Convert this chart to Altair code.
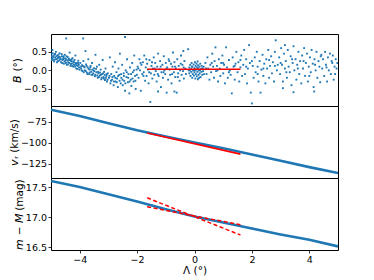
import altair as alt
import pandas as pd

FONT = "DejaVu Sans"
BLUE = "#1f77b4"
RED = "#ff0000"

# ---- top panel: B vs Lambda (stream members) ----
B_PAIRS_A = [
    (-4.98,0.45),(-4.96,0.32),(-4.95,0.55),(-4.93,0.38),(-4.9,0.28),(-4.88,0.42),(-4.85,0.35),(-4.83,0.5),
    (-4.8,0.3),(-4.78,0.4),(-4.75,0.25),(-4.73,0.36),(-4.7,0.46),(-4.68,0.31),(-4.65,0.22),(-4.62,0.38),
    (-4.6,0.28),(-4.57,0.34),(-4.55,0.18),(-4.52,0.42),(-4.5,0.26),(-4.47,0.3),(-4.45,0.15),(-4.42,0.36),
    (-4.4,0.22),(-4.37,0.28),(-4.35,0.48),(-4.32,0.12),(-4.3,0.25),(-4.27,0.19),(-4.25,0.33),(-4.22,0.1),
    (-4.2,0.22),(-4.17,0.15),(-4.15,0.4),(-4.12,0.05),(-4.1,0.18),(-4.07,0.12),(-4.05,0.26),(-4.02,0.08),
    (-4.47,0.86),(-3.88,0.86),(-2.42,0.9),
    (-3.98,0.2),(-3.95,0.05),(-3.92,0.14),(-3.9,-0.02),(-3.87,0.25),(-3.85,0.1),(-3.82,0.0),(-3.8,0.52),
    (-3.78,0.16),(-3.75,-0.06),(-3.72,0.08),(-3.7,0.3),(-3.67,-0.1),(-3.65,0.02),(-3.62,0.12),(-3.6,-0.04),
    (-3.57,0.2),(-3.55,-0.12),(-3.52,0.0),(-3.5,0.06),(-3.47,-0.16),(-3.45,0.42),(-3.42,-0.05),(-3.4,0.1),
    (-3.37,-0.2),(-3.35,-0.08),(-3.32,0.15),(-3.3,-0.14),(-3.27,0.02),(-3.25,-0.24),(-3.22,-0.1),(-3.2,0.28),
    (-3.17,-0.18),(-3.15,-0.04),(-3.12,-0.26),(-3.1,0.05),(-3.07,-0.15),(-3.05,-0.3),(-3.02,-0.08),
    (-2.98,-0.2),(-2.95,0.35),(-2.93,-0.35),(-2.9,-0.1),(-2.87,-0.25),(-2.85,0.1),(-2.82,-0.4),(-2.8,-0.15),
    (-2.77,0.22),(-2.75,-0.3),(-2.72,-0.05),(-2.7,-0.22),(-2.67,-0.45),(-2.65,0.05),(-2.62,-0.12),(-2.6,0.45),
    (-2.57,-0.35),(-2.55,-0.2),(-2.52,0.15),(-2.5,-0.4),(-2.47,-0.08),(-2.45,-0.28),(-2.42,-0.55),(-2.4,0.0),
    (-2.37,-0.18),(-2.35,0.3),(-2.32,-0.32),(-2.3,-0.1),(-2.27,-0.62),(-2.25,0.08),(-2.22,-0.25),(-2.2,-0.42),
    (-2.17,0.2),(-2.15,-0.05),(-2.12,-0.3),(-2.1,0.4),(-2.07,-0.15),(-2.05,-0.5),(-2.02,0.02),
]
B_PAIRS_B = [
    (-1.98,0.1),(-1.95,-0.2),(-1.92,0.3),(-1.9,0.0),(-1.87,-0.55),(-1.85,0.15),(-1.82,-0.1),(-1.8,0.22),
    (-1.77,-0.05),(-1.75,0.4),(-1.72,-0.28),(-1.7,0.08),(-1.67,-0.15),(-1.65,0.18),(-1.62,0.02),(-1.6,-0.35),
    (-1.57,0.28),(-1.54,-0.85),(-1.52,-0.08),(-1.5,0.12),(-1.47,-0.22),(-1.45,0.05),(-1.42,0.35),(-1.4,-0.12),
    (-1.37,0.2),(-1.35,-0.02),(-1.32,-0.3),(-1.3,0.1),(-1.27,0.45),(-1.25,-0.15),(-1.22,0.03),(-1.2,0.25),
    (-1.17,-0.45),(-1.15,-0.05),(-1.12,0.15),(-1.1,-0.2),(-1.07,0.38),(-1.05,0.0),(-1.02,-0.1),(-1.0,0.2),
    (-0.97,-0.6),(-0.95,0.08),(-0.92,-0.25),(-0.9,0.3),(-0.87,0.02),(-0.85,-0.12),(-0.82,0.18),(-0.8,-0.35),
    (-0.77,0.1),(-0.75,0.48),(-0.72,-0.05),(-0.7,0.22),(-0.67,-0.18),(-0.65,0.05),(-0.62,-0.6),(-0.6,0.3),
    (-0.57,-0.08),(-0.55,0.12),(-0.52,-0.28),(-0.5,0.0),(-0.47,0.4),(-0.45,-0.12),(-0.42,0.15),(-0.4,-0.02),
    (-0.37,-0.22),(-0.35,0.25),(-0.32,0.05),(-0.3,-0.1),(-0.39,0.52),(-0.22,0.57),(-0.7,-0.57),(-1.27,-0.57),
    # dense clump near the origin
    (-0.2,0.0),(-0.18,0.08),(-0.18,-0.08),(-0.15,0.15),(-0.14,-0.15),(-0.12,0.04),(-0.11,-0.04),(-0.1,0.2),
    (-0.08,-0.2),(-0.07,0.1),(-0.06,-0.1),(-0.05,0.0),(-0.03,0.16),(-0.02,-0.14),(0.0,0.06),(0.0,-0.05),
    (0.02,0.22),(0.03,-0.22),(0.04,0.12),(0.05,-0.1),(0.06,0.02),(0.07,0.18),(0.08,-0.16),(0.09,0.08),
    (0.1,-0.04),(0.11,0.24),(0.12,-0.24),(0.13,0.14),(0.14,-0.12),(0.15,0.0),(0.17,0.1),(0.18,-0.08),
    (0.2,0.18),(0.21,-0.18),(0.22,0.04),(0.24,-0.04),(0.25,0.12),(0.27,-0.12),(0.28,0.06),(0.3,-0.02),
    (0.32,0.1),(0.33,-0.1),(-0.16,0.0),(0.19,0.0),(0.01,0.0),(-0.09,0.1),(0.12,0.06),(0.16,-0.2),
]
B_PAIRS_C = [
    (0.38,0.2),(0.42,-0.1),(0.45,0.35),(0.48,0.05),(0.52,-0.25),(0.55,0.15),(0.58,-0.05),(0.62,0.45),
    (0.65,0.1),(0.68,-0.2),(0.7,0.25),(0.73,0.62),(0.75,-0.02),(0.78,0.12),(0.82,-0.3),(0.85,0.3),
    (0.88,0.05),(0.9,-0.15),(0.93,0.2),(0.97,0.4),(1.0,-0.08),(1.03,0.15),(1.06,-0.35),(1.1,0.62),
    (1.13,0.08),(1.16,-0.2),(1.2,0.28),(1.23,0.0),(1.26,-0.12),(1.3,-0.62),(1.33,0.35),(1.36,0.1),
    (1.4,-0.25),(1.43,0.18),(1.46,0.5),(1.5,-0.05),(1.53,0.22),(1.56,-0.3),(1.6,0.08),(1.63,0.4),
    (1.66,-0.15),(1.7,0.15),(1.73,0.55),(1.76,-0.1),(1.8,0.3),(1.83,-0.35),(1.86,0.05),(1.9,0.68),
    (1.93,0.2),(1.96,-0.6),(2.0,-0.89),(2.03,0.12),(2.06,-0.2),(2.1,0.35),(2.13,-0.05),(2.17,0.5),
    (2.2,0.1),(2.23,-0.3),(2.27,0.25),(2.3,-0.6),(2.33,0.02),(2.37,0.42),(2.4,-0.15),(2.43,0.18),
    (2.47,-0.35),(2.5,0.3),(2.53,0.05),(2.57,0.55),(2.6,-0.2),(2.63,0.12),(2.67,0.38),(2.7,-0.08),
    (2.73,0.22),(2.77,-0.3),(2.8,0.5),(2.83,0.81),(2.87,0.0),(2.9,0.15),
    (2.95,0.35),(2.98,-0.1),(3.02,0.6),(3.05,0.15),(3.08,-0.3),(3.12,0.45),(3.15,0.05),(3.18,0.25),
    (3.22,-0.2),(3.25,0.55),(3.28,0.1),(3.32,-0.05),(3.35,0.38),(3.38,-0.4),(3.42,0.2),(3.45,0.65),
    (3.48,0.0),(3.52,0.3),(3.55,-0.25),(3.58,0.15),(3.62,0.5),(3.65,-0.1),(3.68,0.25),(3.72,-0.35),
    (3.75,0.4),(3.78,0.05),(3.82,0.6),(3.85,-0.15),(3.88,0.2),(3.92,0.45),(3.95,-0.3),(3.98,0.1),
    (4.02,0.35),(4.05,-0.05),(4.08,0.55),(4.12,0.18),(4.15,-0.45),(4.18,0.3),(4.22,0.0),(4.25,0.5),
    (4.28,-0.2),(4.32,0.25),(4.35,0.1),(4.38,-0.32),(4.42,0.42),(4.45,0.05),(4.48,0.3),(4.52,-0.15),
    (4.55,0.5),(4.58,0.15),(4.62,-0.3),(4.65,0.35),(4.68,0.0),(4.72,0.45),(4.75,-0.1),(4.78,0.25),
    (4.82,0.4),(4.85,-0.25),(4.88,0.1),(4.92,0.3),(4.95,0.05),(4.98,0.2),
    (4.17,-0.57),(3.08,-0.48),(3.45,-0.59),(3.15,0.68),
]
B_PAIRS_D = [
    (-4.99,0.38),(-4.97,0.28),(-4.94,0.46),(-4.91,0.35),(-4.89,0.24),(-4.86,0.44),(-4.84,0.3),(-4.81,0.38),
    (-4.79,0.22),(-4.76,0.33),(-4.74,0.42),(-4.71,0.27),(-4.69,0.36),(-4.66,0.3),(-4.63,0.44),(-4.61,0.2),
    (-4.58,0.3),(-4.56,0.38),(-4.53,0.24),(-4.51,0.32),(-4.48,0.2),(-4.46,0.38),(-4.43,0.27),(-4.41,0.16),
    (-4.38,0.32),(-4.36,0.2),(-4.33,0.28),(-4.31,0.17),(-4.28,0.3),(-4.26,0.12),(-4.23,0.24),(-4.21,0.16),
    (-4.18,0.28),(-4.16,0.1),(-4.13,0.2),(-4.11,0.14),(-4.08,0.04),(-4.06,0.2),(-4.03,0.15),(-4.01,0.02),
    (-3.96,0.1),(-3.93,0.0),(-3.89,0.12),(-3.86,-0.05),(-3.83,0.08),(-3.79,-0.02),(-3.76,0.12),(-3.73,-0.1),
    (-3.69,0.04),(-3.66,-0.06),(-3.63,0.08),(-3.59,-0.12),(-3.56,0.02),(-3.53,-0.08),(-3.49,-0.02),(-3.46,-0.12),
    (-3.43,0.04),(-3.39,-0.14),(-3.36,-0.04),(-3.33,-0.18),(-3.29,-0.06),(-3.26,-0.12),(-3.23,-0.2),(-3.19,-0.08),
    (-3.16,-0.22),(-3.13,-0.12),(-3.09,-0.2),(-3.06,-0.1),(-3.03,-0.25),
    (-2.96,-0.15),(-2.91,-0.28),(-2.86,-0.18),(-2.81,-0.3),(-2.76,-0.2),(-2.71,-0.32),(-2.66,-0.15),(-2.61,-0.28),
    (-2.56,-0.1),(-2.51,-0.25),(-2.46,-0.15),(-2.41,-0.35),(-2.36,-0.05),(-2.31,-0.2),(-2.26,-0.3),(-2.21,-0.1),
    (-2.16,-0.22),(-2.11,0.0),(-2.06,-0.28),(-2.01,-0.12),
    (-1.96,0.05),(-1.88,0.2),(-1.78,-0.15),(-1.68,0.3),(-1.58,-0.05),(-1.48,0.22),(-1.38,0.05),(-1.28,-0.1),
    (-1.18,0.1),(-1.08,-0.05),(-0.98,0.05),(-0.88,0.25),(-0.78,-0.1),(-0.68,0.1),(-0.58,-0.18),(-0.48,0.18),
    (-0.38,0.08),(0.4,0.05),(0.6,0.2),(0.8,0.0),(1.0,0.2),(1.2,-0.05),(1.4,0.12),(1.6,0.28),
    (1.8,0.1),(2.0,0.25),(2.2,-0.1),(2.4,0.05),(2.6,0.28),(2.8,0.12),(3.0,0.2),(3.2,-0.05),
    (3.4,0.3),(3.6,0.05),(3.8,0.25),(4.0,-0.15),(4.2,0.15),(4.4,0.38),(4.6,0.08),(4.8,0.2),(4.9,-0.1),
]

# ---- middle / bottom panels: stream track (read at whole degrees) ----
LAM_KNOTS = [-5, -4, -3, -2, -1, 0, 1, 2, 3, 4, 5]
VR_KNOTS = [-60.5, -68.0, -76.5, -85.0, -92.5, -99.5, -106.5, -114.0, -121.5, -129.0, -136.0]
DM_KNOTS = [17.60, 17.50, 17.38, 17.26, 17.13, 17.01, 16.91, 16.81, 16.71, 16.62, 16.51]

# ---- red model lines ----
FIT_LAM = [-1.65, 1.6]
FIT_B = [0.03, 0.03]
FIT_VR = [-88.3, -113.5]
FIT_DM_STEEP = [17.32, 16.70]
FIT_DM_SHALLOW = [17.17, 16.87]

# ---- tick values ----
X_TICKS = [-4, -2, 0, 2, 4]
B_TICKS = [-0.5, 0.0, 0.5]
VR_TICKS = [-125, -100, -75]
DM_TICKS = [16.5, 17.0, 17.5]

W, H = 287, 72

pairs = B_PAIRS_A + B_PAIRS_B + B_PAIRS_C + B_PAIRS_D
df_b = pd.DataFrame({"lam": [p[0] for p in pairs], "b": [p[1] for p in pairs]})
df_track = pd.DataFrame({"lam": LAM_KNOTS, "vr": VR_KNOTS, "dm": DM_KNOTS})
df_fit_b = pd.DataFrame({"lam": FIT_LAM, "b": FIT_B})
df_fit_vr = pd.DataFrame({"lam": FIT_LAM, "vr": FIT_VR})
df_fit_dm = pd.DataFrame({
    "lam": FIT_LAM + FIT_LAM,
    "dm": FIT_DM_STEEP + FIT_DM_SHALLOW,
    "g": ["steep", "steep", "shallow", "shallow"],
})

xs = alt.Scale(domain=[-5, 5], nice=False, zero=False)


def yaxis(vals, fmt, title):
    return alt.Axis(values=vals, format=fmt, title=title, labelOverlap=False,
                    labelBound=False, tickCount=len(vals))


ax_b = yaxis(B_TICKS, ".1f", "𝘉 (°)")
ax_vr = yaxis(VR_TICKS, "d", "𝘷ᵣ (km/s)")
ax_dm = yaxis(DM_TICKS, ".1f", "𝘮 − 𝘔 (mag)")
ax_x = alt.Axis(values=X_TICKS, format="d", title="Λ (°)", labelOverlap=False)

ys_b = alt.Scale(domain=[-0.96, 0.98], nice=False, zero=False)
top = alt.layer(
    alt.Chart(df_b).mark_square(size=3.5, color=BLUE, opacity=1, clip=True).encode(
        x=alt.X("lam:Q", scale=xs, axis=None),
        y=alt.Y("b:Q", scale=ys_b, axis=ax_b),
    ),
    alt.Chart(df_fit_b).mark_line(color=RED, strokeWidth=1.6, clip=True).encode(
        x=alt.X("lam:Q", scale=xs, axis=None), y=alt.Y("b:Q", scale=ys_b, axis=ax_b)),
).properties(width=W, height=H)

ys_vr = alt.Scale(domain=[-142, -56], nice=False, zero=False)
mid = alt.layer(
    alt.Chart(df_track).mark_line(color=BLUE, strokeWidth=2.6, clip=True).encode(
        x=alt.X("lam:Q", scale=xs, axis=None),
        y=alt.Y("vr:Q", scale=ys_vr, axis=ax_vr),
    ),
    alt.Chart(df_fit_vr).mark_line(color=RED, strokeWidth=1.6, clip=True).encode(
        x=alt.X("lam:Q", scale=xs, axis=None), y=alt.Y("vr:Q", scale=ys_vr, axis=ax_vr)),
).properties(width=W, height=H)

ys_dm = alt.Scale(domain=[16.45, 17.65], nice=False, zero=False)
bot = alt.layer(
    alt.Chart(df_track).mark_line(color=BLUE, strokeWidth=2.6, clip=True).encode(
        x=alt.X("lam:Q", scale=xs, axis=ax_x),
        y=alt.Y("dm:Q", scale=ys_dm, axis=ax_dm),
    ),
    alt.Chart(df_fit_dm).mark_line(color=RED, strokeWidth=1.5, strokeDash=[4, 2.5], clip=True).encode(
        x=alt.X("lam:Q", scale=xs, axis=ax_x), y=alt.Y("dm:Q", scale=ys_dm, axis=ax_dm),
        detail="g:N"),
).properties(width=W, height=H)

chart = alt.vconcat(top, mid, bot, spacing=0, bounds="flush").properties(
    padding={"left": 0, "top": 25, "right": 5, "bottom": 0}
).configure_view(
    stroke="black", strokeWidth=1
).configure_axis(
    labelFont=FONT, titleFont=FONT, labelFontSize=9.5, titleFontSize=10.5,
    titleFontWeight="normal", labelColor="black", titleColor="black",
    tickColor="black", tickSize=3, tickWidth=0.8, labelPadding=1.5, titlePadding=1,
    domain=False, grid=False, labelOverlap=False,
)

chart.save("out.html", embed_options={"renderer": "svg", "actions": False})
